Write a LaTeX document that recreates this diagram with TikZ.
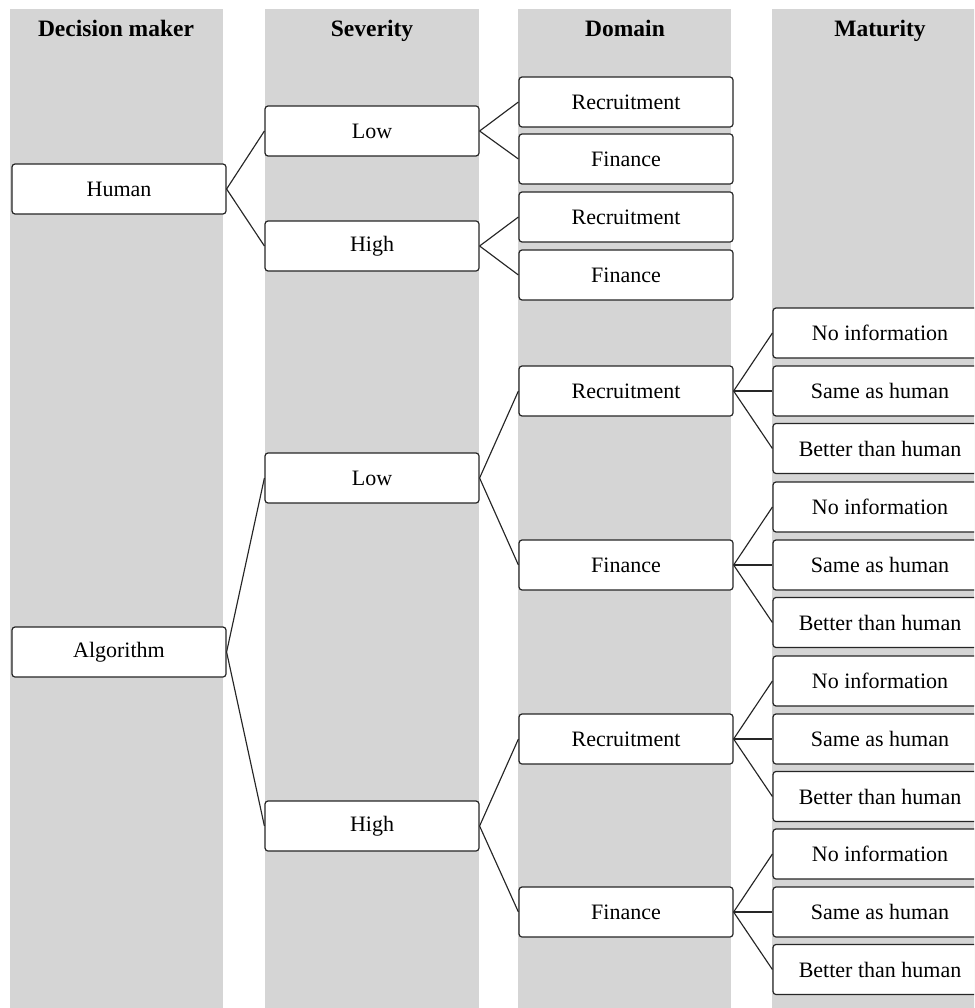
\documentclass[tikz,border=0pt]{standalone}
\usepackage{fontspec}
\setmainfont{Liberation Serif}
\definecolor{colgray}{RGB}{213,213,213}
\begin{document}
\begin{tikzpicture}[x=1pt,y=-1pt,
  box/.style={draw=black!85, line width=1.2pt, rounded corners=3pt, fill=white,
    minimum width=214pt, minimum height=50pt, inner sep=0pt,
    font=\fontsize{22}{24}\selectfont},
  head/.style={font=\fontsize{23.5}{26}\selectfont\bfseries, inner sep=0pt, anchor=base},
  link/.style={draw=black!85, line width=1.15pt}]
\useasboundingbox (0,0) rectangle (974,1008);
\clip (0,0) rectangle (974,1008);
% columns
\fill[colgray] (10,9) rectangle (223,1010);
\fill[colgray] (265,9) rectangle (479,1010);
\fill[colgray] (518,9) rectangle (731,1010);
\fill[colgray] (772,9) rectangle (990,1010);
% headers
\node[head] (h1) at (116,37) {Decision maker};
\node[head] (h2) at (372,37) {Severity};
\node[head] (h3) at (625,37) {Domain};
\node[head] (h4) at (880,37) {Maturity};
% level 1
\node[box] (hum) at (119,189) {Human};
\node[box] (alg) at (119,652) {Algorithm};
% level 2
\node[box] (hl) at (372,131) {Low};
\node[box] (hh) at (372,246) {High};
\node[box] (al) at (372,478) {Low};
\node[box] (ah) at (372,826) {High};
% level 3
\node[box] (hlr) at (626,102) {Recruitment};
\node[box] (hlf) at (626,159) {Finance};
\node[box] (hhr) at (626,217) {Recruitment};
\node[box] (hhf) at (626,275) {Finance};
\node[box] (alr) at (626,391) {Recruitment};
\node[box] (alf) at (626,565) {Finance};
\node[box] (ahr) at (626,739) {Recruitment};
\node[box] (ahf) at (626,912) {Finance};
% level 4
\foreach \p/\yy in {alr/391, alf/565, ahr/739, ahf/912}{
  \node[box] (\p n) at (880,\yy-58) {No information};
  \node[box] (\p s) at (880,\yy) {Same as human};
  \node[box] (\p b) at (880,\yy+57.5) {Better than human};
}
% connectors
\foreach \a/\b in {hum/hl, hum/hh, alg/al, alg/ah,
  hl/hlr, hl/hlf, hh/hhr, hh/hhf, al/alr, al/alf, ah/ahr, ah/ahf}{
  \draw[link] (\a.east) -- (\b.west);
}
\foreach \p in {alr, alf, ahr, ahf}{
  \draw[link] (\p.east) -- (\p n.west);
  \draw[link] (\p.east) -- (\p s.west);
  \draw[link] (\p.east) -- (\p b.west);
}
\end{tikzpicture}
\end{document}
